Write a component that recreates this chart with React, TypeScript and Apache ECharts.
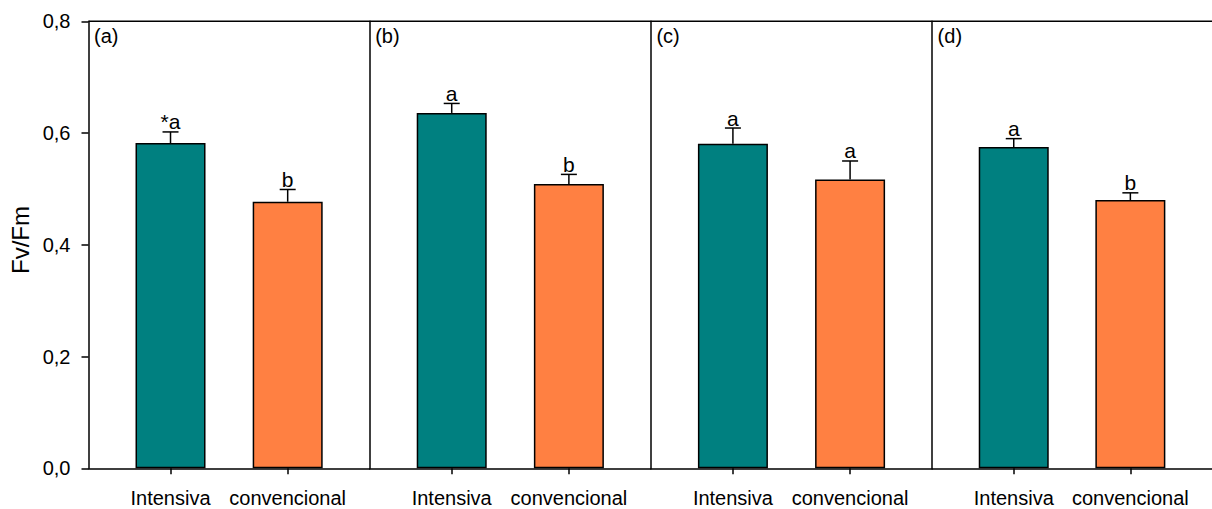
import React, { useEffect, useRef } from "react";
import * as echarts from "echarts";

const categories = ["Intensiva", "convencional"];
const panelLabels = ["(a)", "(b)", "(c)", "(d)"];
const intensiva = [0.582, 0.636, 0.581, 0.575];
const convencional = [0.477, 0.509, 0.517, 0.48];
const intensivaErr = [0.02, 0.017, 0.028, 0.015];
const convencionalErr = [0.022, 0.017, 0.033, 0.013];
const intensivaLetters = ["*a", "a", "a", "a"];
const convencionalLetters = ["b", "b", "a", "b"];
const yMin = 0;
const yMax = 0.8;
const yStep = 0.2;

const FONT = "'Liberation Sans', Arial, sans-serif";
const TEAL = "#008080";
const ORANGE = "#FF8042";

export default function App() {
  const ref = useRef<HTMLDivElement>(null);
  useEffect(() => {
    if (!ref.current) return;
    const chart = echarts.init(ref.current, undefined, { renderer: "svg" });
    const left0 = 88.5;
    const pw = 281.2;
    const top = 21.3;
    const height = 447;
    const grids: any[] = [];
    const xAxes: any[] = [];
    const yAxes: any[] = [];
    const series: any[] = [];
    const graphics: any[] = [];
    for (let i = 0; i < 4; i++) {
      grids.push({ left: left0 + i * pw, top, width: pw, height });
      xAxes.push({
        type: "value",
        gridIndex: i,
        min: 0.3,
        max: 2.7,
        splitLine: { show: false },
        axisLine: { show: true, lineStyle: { color: "#000", width: 1.5 } },
        axisTick: { show: true, customValues: [1, 2], length: 6, lineStyle: { color: "#000", width: 1.5 } },
        axisLabel: {
          show: true,
          customValues: [1, 2],
          formatter: (v: number) => categories[Math.round(v) - 1] ?? "",
          color: "#000",
          fontSize: 20,
          fontFamily: FONT,
          margin: 20,
        },
      });
      yAxes.push({
        type: "value",
        gridIndex: i,
        min: yMin,
        max: yMax,
        interval: yStep,
        splitLine: { show: false },
        axisLine: { show: true, lineStyle: { color: "#000", width: 1.5 } },
        axisTick: { show: i === 0, length: 7, lineStyle: { color: "#000", width: 1.5 } },
        axisLabel: {
          show: i === 0,
          formatter: (v: number) => v.toFixed(1).replace(".", ","),
          color: "#000",
          fontSize: 20,
          fontFamily: FONT,
          margin: 18,
        },
      });
      series.push({
        type: "bar",
        xAxisIndex: i,
        yAxisIndex: i,
        barWidth: 70,
        data: [
          { value: [1, intensiva[i]], itemStyle: { color: TEAL } },
          { value: [2, convencional[i]], itemStyle: { color: ORANGE } },
        ],
        itemStyle: { borderColor: "#000", borderWidth: 1.5 },
        z: 2,
      });
      const letters = [intensivaLetters[i], convencionalLetters[i]];
      series.push({
        type: "custom",
        xAxisIndex: i,
        yAxisIndex: i,
        data: [
          [1, intensiva[i], intensivaErr[i]],
          [2, convencional[i], convencionalErr[i]],
        ],
        z: 3,
        renderItem: (params: any, api: any) => {
          const x = api.value(0);
          const y = api.value(1);
          const e = api.value(2);
          const p0 = api.coord([x, y]);
          const p1 = api.coord([x, y + e]);
          const st = { stroke: "#000", lineWidth: 1.5 };
          return {
            type: "group",
            children: [
              { type: "line", shape: { x1: p0[0], y1: p0[1], x2: p1[0], y2: p1[1] }, style: st },
              { type: "line", shape: { x1: p1[0] - 8, y1: p1[1], x2: p1[0] + 8, y2: p1[1] }, style: st },
              {
                type: "text",
                x: p1[0],
                y: p1[1] + 0.5,
                style: {
                  text: letters[params.dataIndex],
                  fill: "#000",
                  fontSize: 21,
                  fontFamily: FONT,
                  align: "center",
                  verticalAlign: "bottom",
                },
              },
            ],
          };
        },
      });
      graphics.push({
        type: "text",
        left: left0 + i * pw + 5.5,
        top: 26,
        style: { text: panelLabels[i], fill: "#000", fontSize: 20, fontFamily: FONT },
      });
    }
    graphics.push({
      type: "line",
      shape: { x1: left0, y1: top, x2: 1212, y2: top },
      style: { stroke: "#000", lineWidth: 1.5 },
    });
    graphics.push({
      type: "text",
      x: 20,
      y: 240,
      rotation: Math.PI / 2,
      style: {
        text: "Fv/Fm",
        fill: "#000",
        fontSize: 24,
        fontFamily: FONT,
        align: "center",
        verticalAlign: "middle",
      },
    });
    chart.setOption({
      animation: false,
      backgroundColor: "#fff",
      grid: grids,
      xAxis: xAxes,
      yAxis: yAxes,
      series,
      graphic: graphics,
    });
    return () => chart.dispose();
  }, []);
  return (
    <div
      ref={ref}
      style={{ position: "fixed", left: 0, top: 0, width: 1212, height: 509 }}
    />
  );
}
